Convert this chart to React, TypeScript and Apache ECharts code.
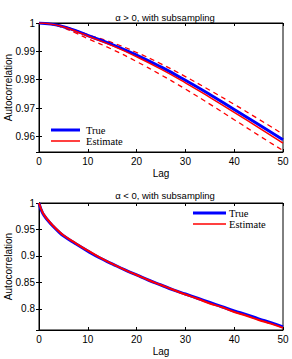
import React, { useEffect, useRef } from "react";
import * as echarts from "echarts";

// Top panel (alpha > 0)
const topLags = [0, 2.5, 5, 7.5, 10, 15, 20, 25, 30, 35, 40, 45, 50];
const topTrue = [1, 0.9996, 0.9987, 0.9973, 0.9956, 0.9924, 0.9887, 0.9845, 0.9798, 0.9748, 0.9695, 0.9642, 0.9588];
const topEstimate = [1, 0.9996, 0.9986, 0.9971, 0.9954, 0.9920, 0.9881, 0.9837, 0.9789, 0.9738, 0.9685, 0.9631, 0.9576];
const topUpper = [1, 0.9997, 0.9989, 0.9975, 0.9959, 0.9931, 0.9896, 0.9856, 0.9811, 0.9763, 0.9713, 0.9661, 0.9608];
const topLower = [1, 0.9995, 0.9983, 0.9965, 0.9945, 0.9907, 0.9864, 0.9817, 0.9767, 0.9714, 0.9659, 0.9604, 0.9550];

// Bottom panel (alpha < 0)
const botLags = [0, 0.25, 0.5, 1, 2, 3, 4, 5, 7.5, 10, 12.5, 15, 17.5, 20, 22.5, 25, 27.5, 30, 32.5, 35, 37.5, 40, 42.5, 45, 47.5, 50];
const botTrue = [1, 0.992, 0.986, 0.977, 0.965, 0.955, 0.946, 0.938, 0.923, 0.909, 0.896, 0.885, 0.874, 0.864, 0.854, 0.845, 0.836, 0.828, 0.82, 0.812, 0.804, 0.796, 0.789, 0.781, 0.774, 0.766];
const botEstimate = [1, 0.993, 0.987, 0.978, 0.966, 0.956, 0.947, 0.939, 0.924, 0.910, 0.897, 0.885, 0.874, 0.864, 0.854, 0.845, 0.836, 0.827, 0.819, 0.810, 0.803, 0.794, 0.787, 0.779, 0.772, 0.764];

const titles = ["α > 0, with subsampling", "α < 0, with subsampling"];
const xLabel = "Lag";
const yLabel = "Autocorrelation";
const legendNames = ["True", "Estimate"];

const pairs = (xs: number[], ys: number[]) => xs.map((x, i) => [x, ys[i]]);

export default function App() {
  const ref = useRef<HTMLDivElement>(null);
  useEffect(() => {
    if (!ref.current) return;
    const chart = echarts.init(ref.current, undefined, { renderer: "svg" });
    const sans = "Liberation Sans";
    const serif = "Liberation Serif";
    const axisLabel = { fontFamily: sans, fontSize: 10, color: "#000" };
    const grids = [
      { left: 39, right: 9, top: 23, height: 129, show: true, borderColor: "#000", borderWidth: 1, outerBoundsMode: "none", containLabel: false },
      { left: 39, right: 9, top: 203, height: 127, show: true, borderColor: "#000", borderWidth: 1, outerBoundsMode: "none", containLabel: false },
    ];
    const mkX = (g: number) => [
      {
        type: "value", gridIndex: g, min: 0, max: 50, interval: 10,
        name: xLabel, nameLocation: "middle", nameGap: 16, nameMoveOverlap: false,
        nameTextStyle: { fontFamily: sans, fontSize: 10, color: "#000" },
        axisLine: { lineStyle: { color: "#000" } },
        axisTick: { inside: true, length: 3, lineStyle: { color: "#000" } },
        axisLabel: { ...axisLabel, margin: 4 },
        splitLine: { show: false },
      },
      {
        type: "value", gridIndex: g, min: 0, max: 50, interval: 10, position: "top",
        axisLine: { lineStyle: { color: "#000" } },
        axisTick: { inside: true, length: 3, lineStyle: { color: "#000" } },
        axisLabel: { show: false }, splitLine: { show: false },
      },
    ];
    const mkY = (g: number, min: number) => [
      {
        type: "value", gridIndex: g, min, max: 1, splitNumber: 5,
        name: yLabel, nameLocation: "middle", nameGap: 26, nameMoveOverlap: false,
        nameTextStyle: { fontFamily: sans, fontSize: 10, color: "#000" },
        axisLine: { show: true, lineStyle: { color: "#000" } },
        axisTick: { inside: true, length: 3, lineStyle: { color: "#000" } },
        axisLabel: { ...axisLabel, margin: 4, showMinLabel: false },
        splitLine: { show: false },
      },
      {
        type: "value", gridIndex: g, min, max: 1, splitNumber: 5, position: "right",
        axisLine: { show: true, lineStyle: { color: "#000" } },
        axisTick: { inside: true, length: 3, lineStyle: { color: "#000" } },
        axisLabel: { show: false }, splitLine: { show: false },
      },
    ];
    const line = (name: string, data: number[][], xi: number, yi: number, color: string, width: number, dashed = false) => ({
      type: "line", name, data, xAxisIndex: xi, yAxisIndex: yi, showSymbol: false, symbol: "none",
      smooth: true, silent: true,
      lineStyle: { color, width, type: dashed ? [5, 4] : "solid" },
      itemStyle: { color },
    });
    const legendGraphic = (x1: number, x2: number, y: number, tx: number) => [
      { type: "line", shape: { x1, y1: y, x2, y2: y }, style: { stroke: "#0000ff", lineWidth: 3 }, silent: true },
      { type: "line", shape: { x1, y1: y + 11, x2, y2: y + 11 }, style: { stroke: "#ff0000", lineWidth: 1.5 }, silent: true },
      { type: "text", x: tx, y, style: { text: legendNames[0], font: `10.5px "${serif}"`, fill: "#000", verticalAlign: "middle" }, silent: true },
      { type: "text", x: tx, y: y + 11, style: { text: legendNames[1], font: `10.5px "${serif}"`, fill: "#000", verticalAlign: "middle" }, silent: true },
    ];
    chart.setOption({
      animation: false,
      backgroundColor: "#fff",
      title: [
        { text: titles[0], left: 160, top: 7, textAlign: "center", textStyle: { fontFamily: sans, fontSize: 9.5, fontWeight: "normal", color: "#000" } },
        { text: titles[1], left: 160, top: 185, textAlign: "center", textStyle: { fontFamily: sans, fontSize: 9.5, fontWeight: "normal", color: "#000" } },
      ],
      graphic: [...legendGraphic(51, 80, 130, 86), ...legendGraphic(193, 226, 213, 229)],
      grid: grids,
      xAxis: [...mkX(0), ...mkX(1)],
      yAxis: [...mkY(0, 0.9545), ...mkY(1, 0.76)],
      series: [
        line("Upper", pairs(topLags, topUpper), 0, 0, "#ff0000", 1.3, true),
        line("Lower", pairs(topLags, topLower), 0, 0, "#ff0000", 1.3, true),
        line("True", pairs(topLags, topTrue), 0, 0, "#0000ff", 3),
        line("Estimate", pairs(topLags, topEstimate), 0, 0, "#ff0000", 1.5),
        line("True", pairs(botLags, botTrue), 2, 2, "#0000ff", 3),
        line("Estimate", pairs(botLags, botEstimate), 2, 2, "#ff0000", 2),
      ],
    });
    return () => chart.dispose();
  }, []);
  return <div ref={ref} style={{ position: "fixed", left: 0, top: 0, width: 292, height: 359 }} />;
}
